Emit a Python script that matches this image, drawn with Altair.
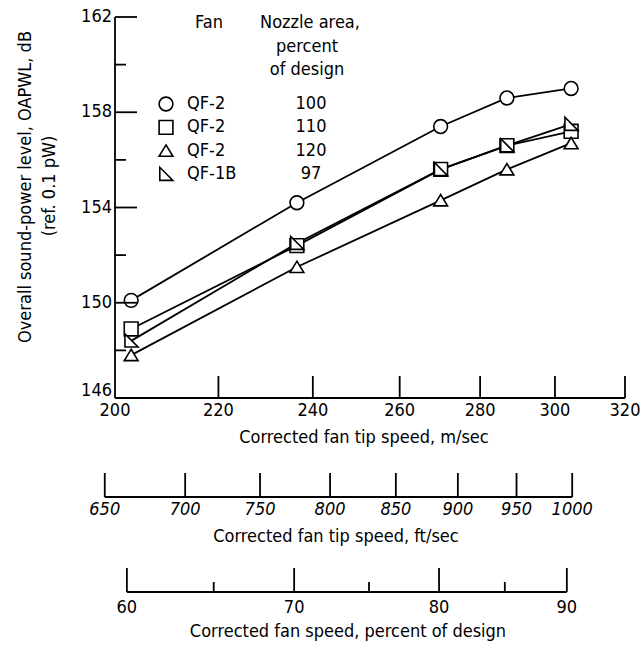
import altair as alt
import pandas as pd

# ---------------- data ----------------
speed_ms = [203, 236.5, 270, 287, 304.5]          # corrected fan tip speed, m/sec
series = ["QF-2 100", "QF-2 110", "QF-2 120", "QF-1B 97"]
fans = ["QF-2", "QF-2", "QF-2", "QF-1B"]
nozzle = ["100", "110", "120", "97"]
oapwl_100 = [150.1, 154.2, 157.4, 158.6, 159.0]
oapwl_110 = [148.9, 152.4, 155.6, 156.6, 157.2]
oapwl_120 = [147.8, 151.5, 154.3, 155.6, 156.7]
oapwl_1b = [148.4, 152.5, 155.6, 156.6, 157.5]

x_labels = [200, 220, 240, 260, 280, 300, 320]
x_ticks = [220, 240, 260, 280, 300, 320]
y_labels = [146, 150, 154, 158, 162]
y_minor = [148, 152, 156, 160]
ft_ticks = [650, 700, 750, 800, 850, 900, 950, 1000]
pct_ticks = [60, 65, 70, 75, 80, 85, 90]
pct_labels = [60, 70, 80, 90]
FT_TO_M = 0.3048
PCT_TO_M = 3.37

FONT = "'DejaVu Sans Condensed', 'Liberation Sans Narrow', 'Roboto Condensed', 'Liberation Sans', sans-serif"
W, H = 510, 381
LS = 18   # tick label size
TS = 18   # title size

shapes = ["circle", "square", "M0,-0.85L1,0.8L-1,0.8Z", "M-0.9,-1L-0.9,0.9L1,0.9Z"]

rows = []
for s, vals in zip(series, [oapwl_100, oapwl_110, oapwl_120, oapwl_1b]):
    for x, y in zip(speed_ms, vals):
        rows.append({"series": s, "speed": x, "oapwl": y})
df = pd.DataFrame(rows)

xscale = alt.Scale(type="log", domain=[200, 320], nice=False)
yscale = alt.Scale(domain=[146, 162], nice=False, zero=False)
shape_scale = alt.Scale(domain=series, range=shapes)

RULE = dict(color="black", strokeWidth=1.8)


def X(f):
    return alt.X(f, scale=xscale, axis=None)


def Y(f):
    return alt.Y(f, scale=yscale, axis=None)


base = alt.Chart(df)
lines = base.mark_line(color="black", strokeWidth=1.8).encode(
    x=X("speed:Q"), y=Y("oapwl:Q"), detail="series:N")
points = base.mark_point(filled=True, fill="white", stroke="black", strokeWidth=1.6,
                         size=190, opacity=1).encode(
    x=X("speed:Q"), y=Y("oapwl:Q"),
    shape=alt.Shape("series:N", scale=shape_scale, legend=None))

# ---- main axes drawn from the scales ----
xdom = alt.Chart(pd.DataFrame({"a": [x_labels[0]], "b": [x_labels[-1]]})).mark_rule(**RULE).encode(
    x=X("a:Q"), x2="b:Q", y=alt.value(H))
ydom = alt.Chart(pd.DataFrame({"a": [y_labels[0]], "b": [y_labels[-1]]})).mark_rule(**RULE).encode(
    y=Y("a:Q"), y2="b:Q", x=alt.value(0))
xt = alt.Chart(pd.DataFrame({"v": x_ticks})).mark_rule(**RULE).encode(
    x=X("v:Q"), y=alt.value(H), y2=alt.value(H - 22))
yt = alt.Chart(pd.DataFrame({"v": y_labels})).mark_rule(**RULE).encode(
    y=Y("v:Q"), x=alt.value(0), x2=alt.value(22))
ytm = alt.Chart(pd.DataFrame({"v": y_minor})).mark_rule(**RULE).encode(
    y=Y("v:Q"), x=alt.value(0), x2=alt.value(11))
xlab = alt.Chart(pd.DataFrame({"v": x_labels, "t": [str(v) for v in x_labels]})).mark_text(
    font=FONT, fontSize=LS, color="black", baseline="middle").encode(
    x=X("v:Q"), y=alt.value(H + 13), text="t:N")
ylab = alt.Chart(pd.DataFrame({"v": y_labels[1:], "t": [str(v) for v in y_labels[1:]]})).mark_text(
    font=FONT, fontSize=LS, color="black", baseline="middle", align="right").encode(
    y=Y("v:Q"), x=alt.value(-3), text="t:N")
ylab0 = alt.Chart(pd.DataFrame({"v": y_labels[:1], "t": [str(v) for v in y_labels[:1]]})).mark_text(
    font=FONT, fontSize=LS, color="black", baseline="bottom", align="right", dy=2).encode(
    y=Y("v:Q"), x=alt.value(-3), text="t:N")

# ---- secondary axis: ft/sec ----
ft_df = pd.DataFrame({"ft": ft_ticks})
ft_df["ms"] = ft_df["ft"] * FT_TO_M
ft_df["lab"] = ft_df["ft"].astype(str)
ft_line_df = pd.DataFrame({"a": [min(ft_ticks) * FT_TO_M], "b": [max(ft_ticks) * FT_TO_M]})
FT_Y = 480
ft_line = alt.Chart(ft_line_df).mark_rule(**RULE).encode(x=X("a:Q"), x2="b:Q", y=alt.value(FT_Y))
ft_tk = alt.Chart(ft_df).mark_rule(**RULE).encode(
    x=X("ms:Q"), y=alt.value(FT_Y), y2=alt.value(FT_Y - 24))
ft_lab = alt.Chart(ft_df).mark_text(font=FONT, fontSize=LS, fontStyle="italic", color="black",
                                    baseline="middle").encode(
    x=X("ms:Q"), y=alt.value(FT_Y + 13), text="lab:N")

# ---- secondary axis: percent of design ----
pct_df = pd.DataFrame({"p": pct_ticks})
pct_df["ms"] = pct_df["p"] * PCT_TO_M
pct_df["major"] = pct_df["p"].isin(pct_labels)
pct_lab_df = pd.DataFrame({"p": pct_labels})
pct_lab_df["ms"] = pct_lab_df["p"] * PCT_TO_M
pct_lab_df["lab"] = pct_lab_df["p"].astype(str)
pct_line_df = pd.DataFrame({"a": [min(pct_ticks) * PCT_TO_M], "b": [max(pct_ticks) * PCT_TO_M]})
P_Y = 575
pct_line = alt.Chart(pct_line_df).mark_rule(**RULE).encode(x=X("a:Q"), x2="b:Q", y=alt.value(P_Y))
pct_major = alt.Chart(pct_df[pct_df["major"]]).mark_rule(**RULE).encode(
    x=X("ms:Q"), y=alt.value(P_Y), y2=alt.value(P_Y - 24))
pct_minor = alt.Chart(pct_df[~pct_df["major"]]).mark_rule(**RULE).encode(
    x=X("ms:Q"), y=alt.value(P_Y), y2=alt.value(P_Y - 10))
pct_lab = alt.Chart(pct_lab_df).mark_text(font=FONT, fontSize=LS, color="black",
                                          baseline="middle").encode(
    x=X("ms:Q"), y=alt.value(P_Y + 16), text="lab:N")


def label(txt, x, y, size=TS, angle=0):
    kw = dict(font=FONT, fontSize=size, color="black", align="center", baseline="middle")
    if angle:
        kw["angle"] = angle
    return alt.Chart(pd.DataFrame({"t": [txt]})).mark_text(**kw).encode(
        x=alt.value(x), y=alt.value(y), text="t:N")


titles = [
    label("Corrected fan tip speed, m/sec", 249, 421),
    label("Corrected fan tip speed, ft/sec", 221, 520),
    label("Corrected fan speed, percent of design", 233, 615),
    label("Overall sound-power level, OAPWL, dB", -89, 170, angle=270),
    label("(ref. 0.1 pW)", -65, 169, angle=270),
    label("Fan", 94, 6, size=LS),
    label("Nozzle area,", 195, 6, size=LS),
    label("percent", 192, 30, size=LS),
    label("of design", 192, 53, size=LS),
]

# ---- legend block ----
leg_df = pd.DataFrame({"series": series, "fan": fans, "nozzle": nozzle, "row": range(len(series))})
leg = alt.Chart(leg_df).transform_calculate(ly="87 + datum.row * 23.4")
leg_pts = leg.mark_point(filled=True, fill="white", stroke="black", strokeWidth=1.6,
                         size=190, opacity=1).encode(
    x=alt.value(51), y=alt.Y("ly:Q", scale=None, axis=None),
    shape=alt.Shape("series:N", scale=shape_scale, legend=None))
leg_fan = leg.mark_text(font=FONT, fontSize=LS, color="black", align="left",
                        baseline="middle").encode(
    x=alt.value(72), y=alt.Y("ly:Q", scale=None, axis=None), text="fan:N")
leg_noz = leg.mark_text(font=FONT, fontSize=LS, color="black", align="center",
                        baseline="middle").encode(
    x=alt.value(196), y=alt.Y("ly:Q", scale=None, axis=None), text="nozzle:N")

chart = alt.layer(
    lines, points, xdom, ydom, xt, yt, ytm, xlab, ylab, ylab0,
    ft_line, ft_tk, ft_lab, pct_line, pct_major, pct_minor, pct_lab,
    *titles, leg_pts, leg_fan, leg_noz,
).properties(
    width=W, height=H,
    autosize=alt.AutoSizeParams(type="none"),
    padding={"left": 115, "top": 17, "right": 15, "bottom": 247},
    background="white",
).configure_view(stroke=None)

chart.save("out.html", embed_options={"renderer": "svg", "actions": False})
